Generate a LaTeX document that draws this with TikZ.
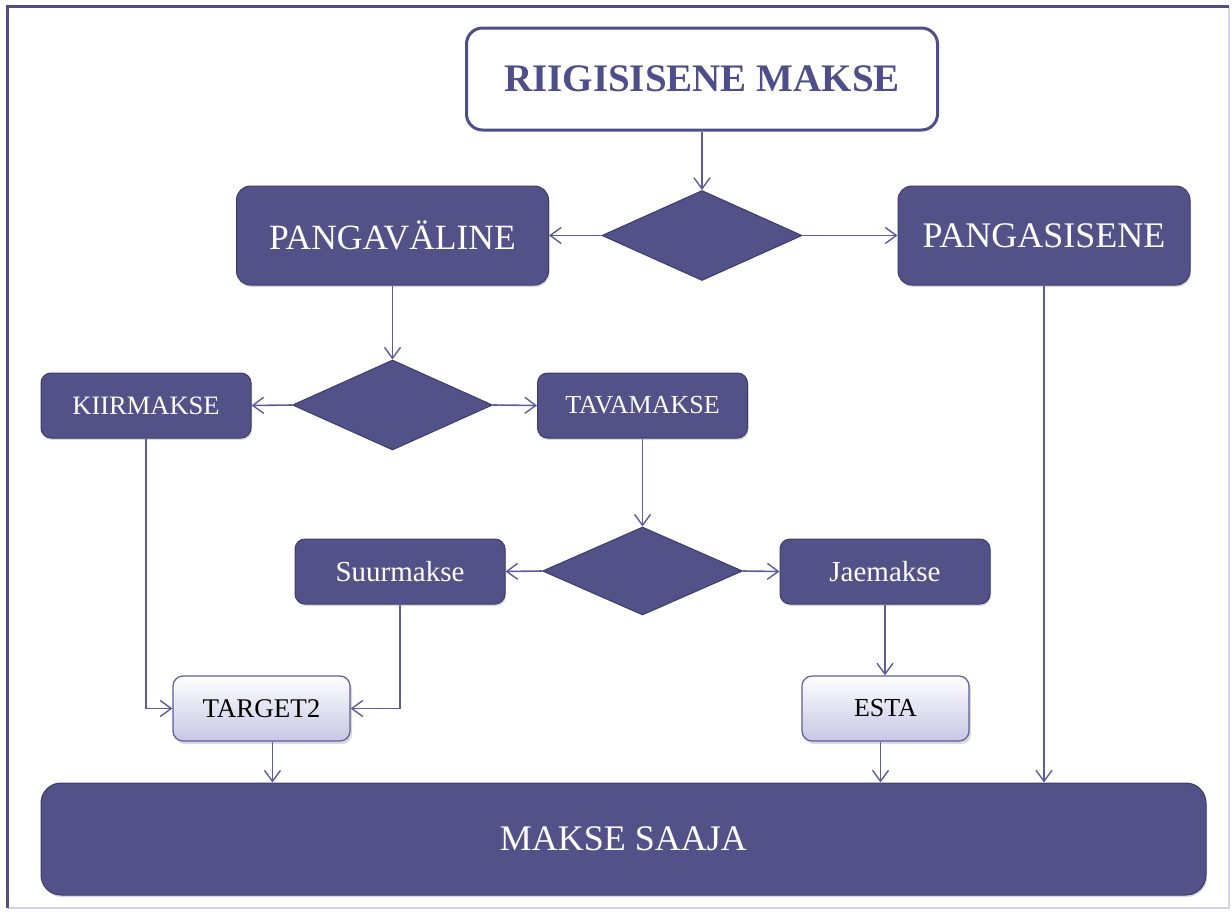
\documentclass[tikz,border=0pt]{standalone}
\usepackage{fontspec}
\setmainfont{Liberation Serif}
\usetikzlibrary{shapes.geometric,arrows.meta,shadows,calc}

\definecolor{navy}{RGB}{83,82,136}
\definecolor{navyedge}{RGB}{60,60,108}
\definecolor{wire}{RGB}{92,92,155}
\definecolor{frameline}{RGB}{78,78,140}
\definecolor{framelight}{RGB}{210,210,238}
\definecolor{paleend}{RGB}{198,198,228}
\definecolor{titletext}{RGB}{78,78,138}

\tikzset{
  darkbox/.style={rectangle, rounded corners=14pt, fill=navy, draw=navyedge,
    line width=1pt, text=white, inner sep=0pt,
    drop shadow={shadow xshift=1pt, shadow yshift=-2pt, opacity=0.3}},
  smallbox/.style={darkbox, rounded corners=10pt,
    minimum width=210pt, minimum height=65pt},
  palebox/.style={rectangle, rounded corners=10pt, draw=wire, line width=1.2pt,
    top color=white, bottom color=paleend, text=black, inner sep=0pt,
    minimum height=65pt,
    drop shadow={shadow xshift=2pt, shadow yshift=-3pt, opacity=0.3}},
  choice/.style={diamond, fill=navy, draw=navyedge, line width=1pt,
    inner sep=0pt, minimum width=200pt, minimum height=90pt},
  wireto/.style={draw=wire, line width=1.6pt,
    -{Straight Barb[length=11pt,width=16pt,line width=1.4pt]}},
}

\begin{document}
\begin{tikzpicture}[x=1pt, y=-1pt]
\useasboundingbox (0,0) rectangle (1232,911);

% page frame
\draw[framelight, line width=1.5pt] (1229,6.5) -- (1229,908) -- (7.5,908);
\draw[frameline, line width=3pt] (7.5,908) -- (7.5,6.5) -- (1229,6.5);

% boxes
\node[rectangle, rounded corners=16pt, draw=frameline, line width=3pt, fill=white,
      minimum width=471pt, minimum height=102pt, text=titletext,
      font=\fontsize{39}{44}\selectfont\bfseries] (top) at (702,79) {RIIGISISENE MAKSE};

\node[choice] (d1) at (702,235.5) {};
\node[darkbox, minimum width=312pt, minimum height=99pt,
      font=\fontsize{35.5}{40}\selectfont] (pv) at (392.5,235.5) {PANGAVÄLINE};
\node[darkbox, minimum width=292pt, minimum height=99pt,
      font=\fontsize{36}{40}\selectfont] (ps) at (1044,235.5) {PANGASISENE};

\node[choice] (d2) at (392.5,405) {};
\node[smallbox, font=\fontsize{26.5}{30}\selectfont] (kiir) at (146,405.5) {KIIRMAKSE};
\node[smallbox, font=\fontsize{26}{30}\selectfont] (tava) at (642.5,405.5) {TAVAMAKSE};

\node[choice, minimum height=88pt] (d3) at (642.5,571) {};
\node[smallbox, font=\fontsize{29}{32}\selectfont] (suur) at (400,571.5) {Suurmakse};
\node[smallbox, font=\fontsize{29}{32}\selectfont] (jae) at (885,571.5) {Jaemakse};

\node[palebox, minimum width=177pt, font=\fontsize{27}{30}\selectfont] (target) at (261.5,708.5) {TARGET2};
\node[palebox, minimum width=167pt, font=\fontsize{26}{30}\selectfont] (esta) at (885.5,708.5) {ESTA};

\node[darkbox, rounded corners=20pt, minimum width=1165pt, minimum height=112pt,
      font=\fontsize{36}{40}\selectfont] (saaja) at (623.5,839) {MAKSE SAAJA};

% exit points below the two clearing boxes
\coordinate (tgtout) at ($(target.south)+(11,0)$);
\coordinate (estaout) at ($(esta.south)+(-5,0)$);

% connectors
\draw[wireto] (top.south) -- (d1.north);
\draw[wireto] (d1.west) -- (pv.east);
\draw[wireto] (d1.east) -- (ps.west);
\draw[wireto] (pv.south) -- (d2.north);
\draw[wireto] (d2.west) -- (kiir.east);
\draw[wireto] (d2.east) -- (tava.west);
\draw[wireto] (tava.south) -- (d3.north);
\draw[wireto] (d3.west) -- (suur.east);
\draw[wireto] (d3.east) -- (jae.west);
\draw[wireto] (kiir.south) |- (target.west);
\draw[wireto] (suur.south) |- (target.east);
\draw[wireto] (jae.south) -- (esta.north -| jae.south);
\draw[wireto] (tgtout) -- (tgtout |- saaja.north);
\draw[wireto] (estaout) -- (estaout |- saaja.north);
\draw[wireto] (ps.south) -- (ps.south |- saaja.north);
\end{tikzpicture}
\end{document}
